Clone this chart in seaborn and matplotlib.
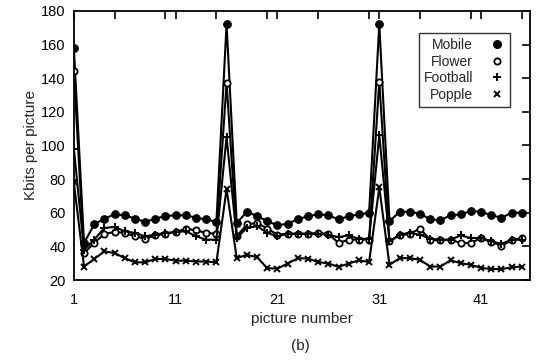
import numpy as np
import matplotlib
matplotlib.use("Agg")
import matplotlib.pyplot as plt
import seaborn as sns
import pandas as pd
from matplotlib.lines import Line2D
from matplotlib.ticker import MultipleLocator

# picture numbers 1..45
pictures = list(range(1, 46))

mobile = [158, 42, 53, 56.5, 59, 58.5, 56.5, 54.5, 56.5, 58,
          58.5, 58.5, 57, 56, 54.5, 172, 54, 60.5, 58, 55,
          52.5, 53.5, 56, 58, 59, 58.5, 56, 58, 59, 60,
          172, 55, 60.5, 60.5, 59.5, 56, 55.5, 58.5, 59, 61,
          60.5, 58.5, 57, 60, 60]
flower = [144, 36, 42, 47.5, 48.5, 48, 46, 44.5, 46.5, 47.5,
          48.5, 50.5, 49.5, 48, 47.5, 137, 46, 53, 54, 50.5,
          47, 47.5, 47.5, 47.5, 48, 47.5, 42, 44, 44, 44,
          138, 43, 46.5, 47.5, 50.5, 44, 43.5, 44, 42, 42,
          45, 42.5, 40.5, 43.5, 45]
football = [98, 38, 44, 51, 51.5, 49, 48, 46, 47, 48,
            48.5, 49, 46, 44, 44, 105, 45, 51, 52, 48,
            46, 47.5, 47.5, 47.5, 47.5, 47, 45.5, 46.5, 44.5, 44.5,
            106, 43, 47, 48, 47, 44.5, 44, 44, 46.5, 45,
            45, 43, 41.5, 44, 44]
popple = [78, 28, 32.5, 37, 36, 33, 30.5, 30.5, 32.5, 32.5,
          31.5, 31.5, 31, 31, 30.5, 74, 33, 35, 33.5, 27,
          26.8, 29.8, 33, 32.7, 30.7, 29.8, 27.8, 29.8, 31.7, 30.7,
          75, 29, 33, 33, 32, 28, 28, 31.7, 30, 29,
          27.2, 26.5, 26.5, 27.5, 28]

series = {"Mobile": mobile, "Flower": flower, "Football": football, "Popple": popple}

sns.set_style("white")
plt.rcParams["font.family"] = ["Liberation Sans", "DejaVu Sans"]
plt.rcParams["font.size"] = 10

fig = plt.figure(figsize=(5.43, 3.62), dpi=100)
ax = fig.add_axes([0.136, 0.2265, 0.84, 0.7435])

styles = {
    "Mobile": dict(marker="o", markersize=5.5, markerfacecolor="black"),
    "Flower": dict(marker="o", markersize=4.5, markerfacecolor="white", mew=1.3),
    "Football": dict(marker="+", markersize=6, mew=1.4),
    "Popple": dict(marker="x", markersize=4.5, mew=1.4),
}

for name, vals in series.items():
    df = pd.DataFrame({"picture": pictures, "kbits": vals})
    sns.lineplot(data=df, x="picture", y="kbits", ax=ax, color="black",
                 linewidth=1.5, markeredgecolor="black", **styles[name])

ax.set_xlim(1, 45.8)
ax.set_ylim(20, 180)
ax.set_xticks([1, 11, 21, 31, 41])
ax.xaxis.set_minor_locator(MultipleLocator(5))
ax.set_yticks(np.arange(20, 181, 20))
ax.tick_params(which="both", direction="in", top=True, right=True,
               color="black", width=1.2, labelsize=10.5, labelcolor="black")
ax.tick_params(which="major", length=6)
ax.tick_params(axis="x", which="major", pad=9)
ax.tick_params(axis="y", which="major", pad=6)
ax.tick_params(which="minor", length=6)
for s in ax.spines.values():
    s.set_color("black")
    s.set_linewidth(1.3)

ax.set_xlabel("picture number", fontsize=11, labelpad=4)
ax.set_ylabel("Kbits per picture", fontsize=11, labelpad=2)
fig.text(0.553, 0.045, "(b)", ha="center", va="center", fontsize=11)

handles = [Line2D([], [], linestyle="none", color="black", markeredgecolor="black",
                  **styles[n]) for n in series]
leg = ax.legend(handles, list(series.keys()), loc="upper right",
                bbox_to_anchor=(0.956, 0.918), borderaxespad=0,
                markerfirst=False, frameon=True,
                fancybox=False, edgecolor="black", fontsize=10,
                handlelength=1.2, handletextpad=1.1, borderpad=0.35,
                labelspacing=0.2)
leg.get_frame().set_linewidth(1.0)

fig.savefig("out.png", dpi=100)
